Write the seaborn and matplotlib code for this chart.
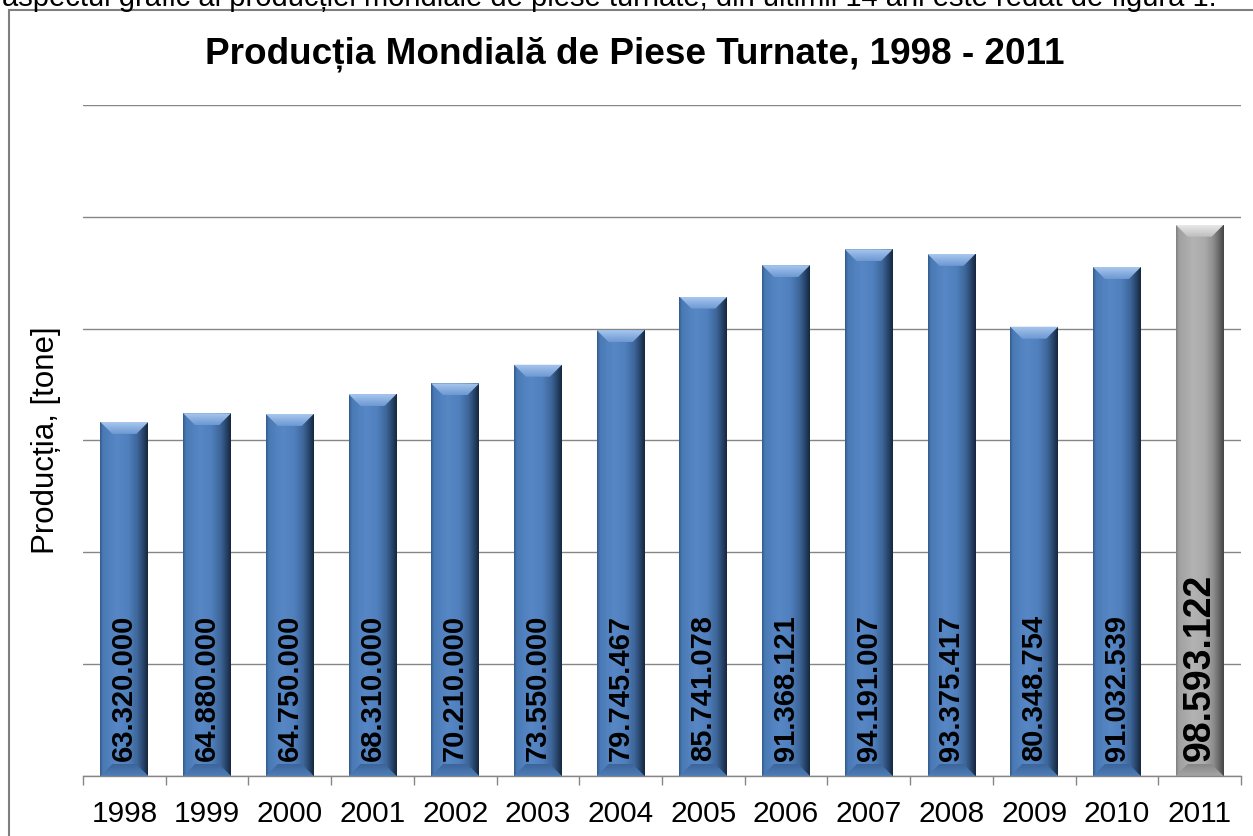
# Graficul productiei mondiale de piese turnate, 1998 - 2011

import numpy as np  # pentru gradienti
import pandas as pd  # pentru tabelul de date
import seaborn as sns  # pentru barele graficului
import matplotlib
matplotlib.use('Agg')
import matplotlib.pyplot as plt
from matplotlib.colors import LinearSegmentedColormap
from matplotlib.patches import Polygon, Rectangle

# Datele graficului
ani = ['1998', '1999', '2000', '2001', '2002', '2003', '2004',
       '2005', '2006', '2007', '2008', '2009', '2010', '2011']
productie = [63320000, 64880000, 64750000, 68310000, 70210000, 73550000, 79745467,
             85741078, 91368121, 94191007, 93375417, 80348754, 91032539, 98593122]
culori = ['#4F81BD'] * 13 + ['#A6A6A6']

titlu = 'Producția Mondială de Piese Turnate, 1998 - 2011'
eticheta_y = 'Producția, [tone]'
text_sus = ('aspectul grafic al producției mondiale de piese turnate, '
            'din ultimii 14 ani este redat de figura 1.')

df = pd.DataFrame({'an': ani, 'productie': productie})

# Tema si fontul (Liberation Sans ~ Arial), text negru
sns.set_theme(style='white')
plt.rcParams['font.family'] = ['Liberation Sans', 'DejaVu Sans']
plt.rcParams['text.color'] = 'black'
plt.rcParams['xtick.color'] = 'black'
plt.rcParams['axes.labelcolor'] = 'black'

W, H = 1253, 836
fig = plt.figure(figsize=(W / 100, H / 100), dpi=100)
ax = fig.add_axes([83 / W, 1 - 776 / H, 1158 / W, 671 / H])

# Barele propriu-zise
sns.barplot(data=df, x='an', y='productie', hue='an', palette=culori, legend=False,
            width=0.58, saturation=1, edgecolor='none', ax=ax, zorder=2)
bare = list(ax.patches)

ax.set_xlim(-0.5, 13.5)
ax.set_ylim(0, 120e6)

# Gradient orizontal pe fiecare bara (efect de relief)
cmap_albastru = LinearSegmentedColormap.from_list('albastru', [
    (0.0, '#33598A'), (0.06, '#4A7AB6'), (0.35, '#5787C5'), (0.6, '#4F7FBC'),
    (0.78, '#3E6699'), (0.9, '#28456B'), (1.0, '#16263D')])
cmap_gri = LinearSegmentedColormap.from_list('gri', [
    (0.0, '#7E7E7E'), (0.06, '#A0A0A0'), (0.35, '#B3B3B3'), (0.6, '#AAAAAA'),
    (0.78, '#8E8E8E'), (0.9, '#676767'), (1.0, '#444444')])
cmap_tesit_albastru = LinearSegmentedColormap.from_list('t_alb', ['#6C98D2', '#A8C7EE'])
cmap_tesit_gri = LinearSegmentedColormap.from_list('t_gri', ['#BDBDBD', '#E8E8E8'])
cmap_baza_albastru = LinearSegmentedColormap.from_list('b_alb', ['#3A6397', '#4D7DB9'])
cmap_baza_gri = LinearSegmentedColormap.from_list('b_gri', ['#858585', '#A5A5A5'])

grad_h = np.linspace(0, 1, 256).reshape(1, -1)
grad_v = np.linspace(1, 0, 64).reshape(-1, 1)
date_pe_pixel = 120e6 / 671

for bara, an in zip(bare, ani):
    x0, y0 = bara.get_x(), bara.get_y()
    w, h = bara.get_width(), bara.get_height()
    gri = an == '2011'
    im = ax.imshow(grad_h, extent=[x0, x0 + w, y0, y0 + h], aspect='auto',
                   cmap=cmap_gri if gri else cmap_albastru, zorder=2.1,
                   interpolation='bilinear')
    im.set_clip_path(bara)
    dx = w * 0.25
    dy = 12 * date_pe_pixel
    # tesitura de sus (trapez luminos)
    sus = y0 + h
    trapez = Polygon([(x0, sus), (x0 + w, sus), (x0 + w - dx, sus - dy), (x0 + dx, sus - dy)],
                     closed=True, facecolor='none', edgecolor='none', zorder=2.2)
    ax.add_patch(trapez)
    im2 = ax.imshow(grad_v, extent=[x0, x0 + w, sus - dy, sus], aspect='auto',
                    cmap=cmap_tesit_gri if gri else cmap_tesit_albastru, zorder=2.2,
                    interpolation='bilinear')
    im2.set_clip_path(trapez)
    # tesitura de jos (trapez mai inchis)
    baza = Polygon([(x0, y0), (x0 + w, y0), (x0 + w - dx, y0 + dy), (x0 + dx, y0 + dy)],
                   closed=True, facecolor='none', edgecolor='none', zorder=2.2)
    ax.add_patch(baza)
    im3 = ax.imshow(1 - grad_v, extent=[x0, x0 + w, y0, y0 + dy], aspect='auto',
                    cmap=cmap_baza_gri if gri else cmap_baza_albastru, zorder=2.2,
                    interpolation='bilinear')
    im3.set_clip_path(baza)

    # eticheta valorii, verticala, in interiorul barei
    text = f'{productie[ani.index(an)]:,}'.replace(',', '.')
    ax.annotate(text, xy=(x0 + w / 2, 0), xytext=(0, 11), textcoords='offset points',
                rotation=90, ha='center', va='bottom', fontsize=27 if gri else 21,
                fontweight='bold', color='black', zorder=5)

ax.set_xlim(-0.5, 13.5)
ax.set_ylim(0, 120e6)

# Axa Y: doar liniile de grila, fara etichete
ax.set_yticks(np.arange(0, 120e6 + 1, 20e6))
ax.set_yticklabels([])
ax.tick_params(axis='y', length=0)
ax.grid(axis='y', color='#868686', linewidth=1)
ax.set_axisbelow(True)
ax.set_xlabel('')
ax.set_ylabel('')

# Axa X: liniute intre categorii
ax.set_xticks(np.arange(-0.5, 14, 1), minor=True)
ax.tick_params(axis='x', which='major', length=0, labelsize=21.5, pad=17, labelcolor='black')
ax.tick_params(axis='x', which='minor', length=6.5, width=1, color='#868686',
               direction='out', bottom=True)
for s in ['top', 'right', 'left']:
    ax.spines[s].set_visible(False)
ax.spines['bottom'].set_color('#868686')
ax.spines['bottom'].set_linewidth(1)

# Textele figurii
fig.text(635 / W, 1 - 63 / H, titlu, ha='center', va='baseline', fontsize=26.6,
         fontweight='bold', color='black')
fig.text(46 / W, 1 - 440 / H, eticheta_y, rotation=90, ha='center', va='center',
         fontsize=22.5, color='black')
fig.text(2 / W, 1 - 6 / H, text_sus, ha='left', va='baseline', fontsize=21, color='black')

# Chenarul graficului
fig.patches.append(Rectangle((9 / W, -0.05), 1.1, 1.05 - 10 / H, transform=fig.transFigure,
                             fill=False, edgecolor='#7F7F7F', linewidth=1.5))

fig.savefig('out.png', dpi=100)
